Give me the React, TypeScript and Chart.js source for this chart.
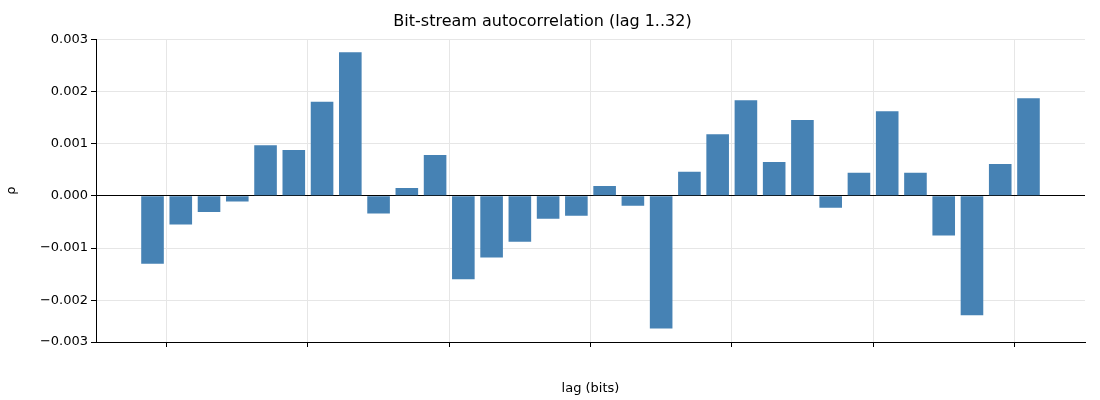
import React, { useEffect, useRef } from "react";
import { Chart, registerables } from "chart.js";
Chart.register(...registerables);

const lags = Array.from({ length: 32 }, (_, i) => i + 1);
const rho = [
  -0.0013, -0.00055, -0.00031, -0.00011, 0.00097, 0.00088, 0.0018, 0.00275,
  -0.00034, 0.00015, 0.00078, -0.0016, -0.00118, -0.00088, -0.00044, -0.00038,
  0.00019, -0.00019, -0.00254, 0.00046, 0.00118, 0.00183, 0.00065, 0.00145,
  -0.00023, 0.00044, 0.00162, 0.00044, -0.00076, -0.00229, 0.00061, 0.00187,
];
const titleText = "Bit-stream autocorrelation (lag 1..32)";

export default function App() {
  const ref = useRef<HTMLCanvasElement>(null);
  useEffect(() => {
    document.body.style.margin = "0";
    const font = { family: "DejaVu Sans", size: 13 };
    const chart = new Chart(ref.current!, {
      type: "bar",
      data: {
        datasets: [
          {
            data: lags.map((x, i) => ({ x, y: rho[i] })),
            backgroundColor: "#4682b4",
            barPercentage: 1,
            categoryPercentage: 0.8,
          },
        ],
      },
      options: {
        animation: false,
        responsive: false,
        layout: { padding: { left: 0, right: 15, top: 0, bottom: 0 } },
        plugins: {
          legend: { display: false },
          tooltip: { enabled: false },
          title: {
            display: true,
            text: titleText,
            color: "#000",
            font: { family: "DejaVu Sans", size: 16, weight: "normal" },
            padding: { top: 12, bottom: 8 },
          },
        },
        scales: {
          x: {
            type: "linear",
            min: -1,
            max: 34,
            offset: false,
            ticks: { stepSize: 5, color: "#000", font, callback: (v: any) => (v % 5 === 0 ? String(v) : "") },
            grid: { color: "#e6e6e6", tickLength: 5, tickColor: "#000" },
            border: { display: true, color: "#000" },
            title: { display: true, text: "lag (bits)", color: "#000", font, padding: { top: 4 } },
            afterFit: (s: any) => { s.height = 58; },
          },
          y: {
            min: -0.0028,
            max: 0.003,
            ticks: {
              stepSize: 0.001,
              color: "#000",
              font,
              callback: (v: any) => (Math.abs(v) < 1e-9 ? "0.000" : Number(v).toFixed(3).replace("-", "\u2212")),
            },
            grid: {
              color: (c: any) => (c.tick && Math.abs(c.tick.value) < 1e-9 ? "#000" : "#e6e6e6"),
              tickLength: 5,
              tickColor: "#000",
            },
            border: { display: true, color: "#000" },
            title: { display: true, text: "ρ", color: "#000", font },
            afterFit: (s: any) => { s.width = 96; },
          },
        },
      },
    });
    return () => chart.destroy();
  }, []);
  return <canvas ref={ref} width={1100} height={400} style={{ display: "block" }} />;
}
